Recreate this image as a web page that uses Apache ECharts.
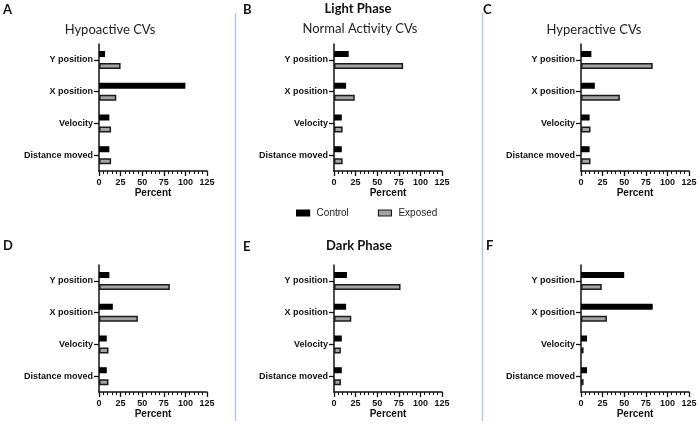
<!DOCTYPE html>
<html><head><meta charset="utf-8">
<script src="https://cdn.jsdelivr.net/npm/echarts@6/dist/echarts.min.js"></script>
<style>html,body{margin:0;padding:0;background:#fff}#c{width:700px;height:428px}</style>
</head><body><div id="c"></div>
<script>
const categories = ['Y position', 'X position', 'Velocity', 'Distance moved'];
const xTicks = [0, 25, 50, 75, 100, 125];
const seriesNames = ['Control', 'Exposed'];
const controlA = [7, 100, 12, 12];
const exposedA = [25, 20, 14, 14];
const controlB = [17, 14, 9, 9];
const exposedB = [80, 24, 10, 10];
const controlC = [12, 16, 10, 10];
const exposedC = [83, 45, 11, 11];
const controlD = [12, 16, 9, 9];
const exposedD = [82, 45, 11, 11];
const controlE = [15, 14, 9, 9];
const exposedE = [77, 20, 8, 8];
const controlF = [50, 83, 7, 7];
const exposedF = [24, 30, 3, 3];
const panelLetters = ['A', 'B', 'C', 'D', 'E', 'F'];
const panelTitles = ['Hypoactive CVs', 'Normal Activity CVs', 'Hyperactive CVs'];
const phaseTitles = ['Light Phase', 'Dark Phase'];

const panels = [
  [controlA, exposedA], [controlB, exposedB], [controlC, exposedC],
  [controlD, exposedD], [controlE, exposedE], [controlF, exposedF]
];
const lefts = [99, 334, 581];
const tops = [44, 265];
const AX = 'Liberation Sans, Arial, sans-serif';
const TF = 'Lato, Noto Sans, sans-serif';

const grids = [], xAxes = [], yAxes = [], series = [];
panels.forEach((p, i) => {
  const col = i % 3, row = Math.floor(i / 3);
  grids.push({left: lefts[col], top: tops[row], width: 108, height: 127, containLabel: false});
  xAxes.push({
    type: 'value', gridIndex: i, min: xTicks[0], max: xTicks[xTicks.length - 1], interval: 25,
    name: 'Percent', nameLocation: 'middle', nameGap: 17,
    nameTextStyle: {fontFamily: AX, fontWeight: 'bold', fontSize: 10, color: '#111'},
    axisLine: {show: true, lineStyle: {color: '#111', width: 1.5}},
    axisTick: {show: true, length: 5, lineStyle: {color: '#111', width: 1.3}},
    minorTick: {show: true, splitNumber: 5, length: 3, lineStyle: {color: '#111', width: 1}},
    splitLine: {show: false}, minorSplitLine: {show: false},
    axisLabel: {fontFamily: AX, fontWeight: 'bold', fontSize: 9, color: '#111', margin: 7}
  });
  yAxes.push({
    type: 'category', gridIndex: i, data: categories, inverse: true,
    axisLine: {show: true, lineStyle: {color: '#111', width: 1.5}},
    axisTick: {show: true, alignWithLabel: true, length: 5, lineStyle: {color: '#111', width: 1.3}},
    axisLabel: {fontFamily: AX, fontWeight: 'bold', fontSize: 9, color: '#111', margin: 6}
  });
  series.push({
    name: seriesNames[0], type: 'bar', xAxisIndex: i, yAxisIndex: i, data: p[0],
    barWidth: 6, barGap: '100%',
    itemStyle: {color: '#000', borderColor: '#000', borderWidth: 1.5}, silent: true
  });
  series.push({
    name: seriesNames[1], type: 'bar', xAxisIndex: i, yAxisIndex: i, data: p[1],
    barWidth: 6, barGap: '100%',
    itemStyle: {color: '#a3a3a3', borderColor: '#1a1a1a', borderWidth: 1.5}, silent: true
  });
});

const letterPos = [[3, 10], [243, 10], [483, 10], [3, 246], [243, 247], [486, 246]];
const graphic = [];
panelLetters.forEach((L, i) => {
  graphic.push({type: 'text', x: letterPos[i][0], y: letterPos[i][1],
    style: {text: L, font: 'bold 13px ' + TF, fill: '#111', textVerticalAlign: 'middle'}});
});
const titlePos = [[110, 30], [360, 29], [594, 30]];
panelTitles.forEach((t, i) => {
  graphic.push({type: 'text', x: titlePos[i][0], y: titlePos[i][1],
    style: {text: t, font: '13px ' + TF, fill: '#222', textAlign: 'center', textVerticalAlign: 'middle'}});
});
graphic.push({type: 'text', x: 358, y: 9,
  style: {text: phaseTitles[0], font: 'bold 13px ' + TF, fill: '#111', textAlign: 'center', textVerticalAlign: 'middle'}});
graphic.push({type: 'text', x: 359, y: 246,
  style: {text: phaseTitles[1], font: 'bold 13px ' + TF, fill: '#111', textAlign: 'center', textVerticalAlign: 'middle'}});
graphic.push({type: 'line', shape: {x1: 235.5, y1: 13, x2: 235.5, y2: 421}, style: {stroke: '#b7c9ea', lineWidth: 1.5}});
graphic.push({type: 'line', shape: {x1: 482.5, y1: 13, x2: 482.5, y2: 421}, style: {stroke: '#b7c9ea', lineWidth: 1.5}});

const option = {
  animation: false,
  backgroundColor: '#fff',
  grid: grids, xAxis: xAxes, yAxis: yAxes, series: series,
  legend: {
    left: 291, top: 203, itemWidth: 13, itemHeight: 6, itemGap: 29, icon: 'rect',
    textStyle: {fontFamily: AX, fontSize: 10, color: '#222', padding: [0, 0, 0, 2]},
    data: [
      {name: seriesNames[0], itemStyle: {color: '#000', borderColor: '#000', borderWidth: 1.2}},
      {name: seriesNames[1], itemStyle: {color: '#a3a3a3', borderColor: '#1a1a1a', borderWidth: 1.2}}
    ]
  },
  graphic: graphic
};
const chart = echarts.init(document.getElementById('c'), null, {renderer: 'canvas'});
chart.setOption(option);
</script></body></html>
